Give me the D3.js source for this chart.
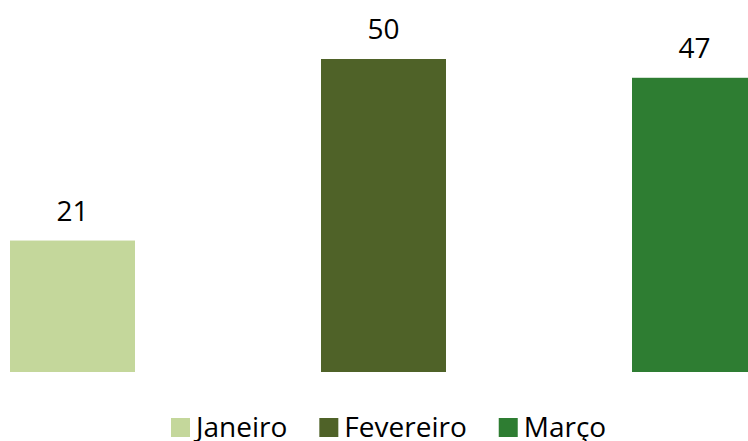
<!DOCTYPE html>
<html>
<head>
<meta charset="utf-8">
<script src="https://cdn.jsdelivr.net/npm/d3@7"></script>
<style>
  html, body { margin: 0; padding: 0; background: #fff; overflow: hidden; }
  svg { display: block; }
  text { font-family: "Open Sans", "Liberation Sans", sans-serif; fill: #000; }
</style>
</head>
<body>
<div id="chart"></div>
<script>
// data
const months = ["Janeiro", "Fevereiro", "Março"];
const values = [21, 50, 47];
const colors = ["#C4D79B", "#4F6228", "#2E7D32"];

const width = 748, height = 441;

const svg = d3.select("#chart")
  .append("svg")
  .attr("width", width)
  .attr("height", height);

// bars: step 311px, bar 125px wide, first bar starts at x=10
const x = d3.scaleBand()
  .domain(months)
  .range([10, 10 + 2 * 311 + 125])
  .paddingInner(186 / 311)
  .paddingOuter(0);

const y = d3.scaleLinear()
  .domain([0, 50])
  .range([372, 59]);

svg.selectAll("rect.bar")
  .data(months)
  .enter().append("rect")
  .attr("class", "bar")
  .attr("x", d => x(d))
  .attr("y", (d, i) => y(values[i]))
  .attr("width", x.bandwidth())
  .attr("height", (d, i) => y(0) - y(values[i]))
  .attr("fill", (d, i) => colors[i]);

// value labels
svg.selectAll("text.val")
  .data(months)
  .enter().append("text")
  .attr("class", "val")
  .attr("x", d => x(d) + x.bandwidth() / 2)
  .attr("y", (d, i) => y(values[i]) - 20)
  .attr("text-anchor", "middle")
  .style("font-size", "28px")
  .text((d, i) => values[i]);

// legend
const legend = svg.append("g").attr("class", "legend");
let lx = 171;
months.forEach((m, i) => {
  const g = legend.append("g").attr("transform", "translate(" + lx + ",0)");
  g.append("rect")
    .attr("x", 0).attr("y", 418)
    .attr("width", 19).attr("height", 19)
    .attr("fill", colors[i]);
  const t = g.append("text")
    .attr("x", 25).attr("y", 437)
    .style("font-size", "28px")
    .text(m);
  lx += 25 + t.node().getComputedTextLength() + 32;
});
</script>
</body>
</html>
